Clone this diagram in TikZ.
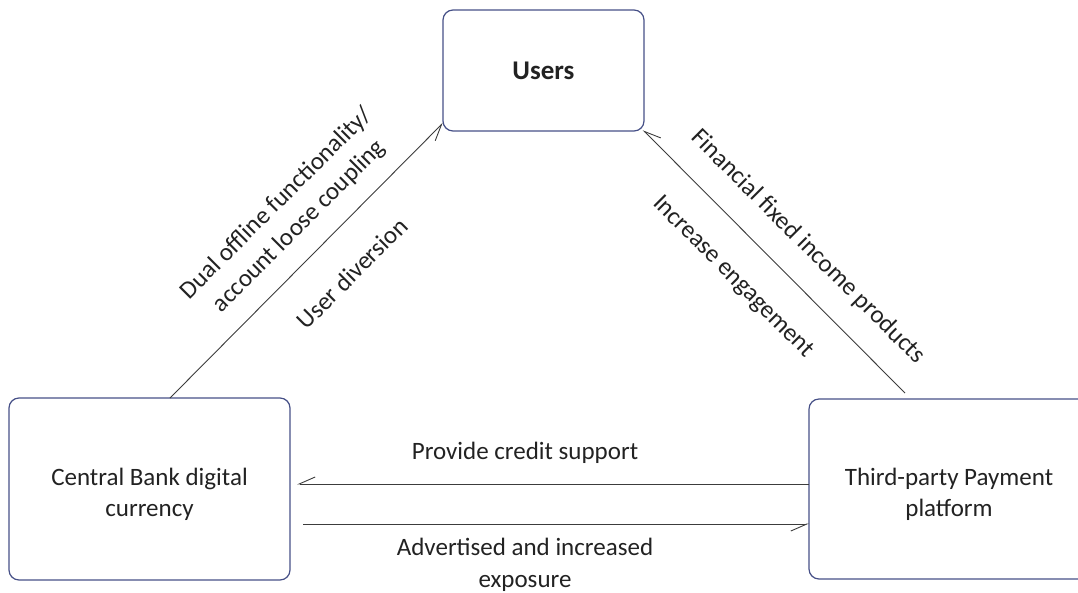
\documentclass[tikz,border=0pt]{standalone}
\usepackage{fontspec}
\setmainfont{Carlito}
\usetikzlibrary{arrows.meta}
\definecolor{boxblue}{RGB}{70,80,135}
\definecolor{linegray}{RGB}{60,60,60}
\definecolor{textgray}{RGB}{34,34,34}
% two centred lines, set a little below the middle of their box
\newcommand{\boxtext}[2]{\raisebox{-6pt}[\height][\depth]{\begin{tabular}{@{}c@{}}#1\\#2\end{tabular}}}
\begin{document}
\begin{tikzpicture}[x=1pt,y=-1pt,
  box/.style={draw=boxblue, line width=1.2pt, rounded corners=10pt, outer sep=0pt,
    align=center, text=textgray, font=\fontsize{25}{31}\selectfont},
  arr/.style={draw=linegray, line width=0.9pt,
    -{Straight Barb[right,length=16pt,width=14pt]}},
  lbl/.style={font=\fontsize{25}{32}\selectfont, text=textgray, align=center, inner sep=0pt},
]
\useasboundingbox (0,0) rectangle (1078,592);
\clip (0,0) rectangle (1078,592);

% the three actors
\node[box, minimum width=201pt, minimum height=121pt] (users) at (543.5,70.5)
  {\fontsize{27}{32}\selectfont\textbf{Users}};
\node[box, minimum width=281pt, minimum height=182pt] (cbdc) at (149.5,489)
  {\boxtext{Central Bank digital}{currency}};
\node[box, minimum width=280pt, minimum height=180pt] (tpp) at (949,489)
  {\boxtext{Third-party Payment}{platform}};

% relations
\draw[arr] ([xshift=161pt]cbdc.north west) -- ([yshift=8pt]users.south west);
\draw[arr] ([xshift=96pt,yshift=6pt]tpp.north west) -- ([xshift=-1pt,yshift=1pt]users.south east);
\draw[arr] ([yshift=5pt]tpp.west) -- ([xshift=7pt,yshift=5pt]cbdc.east);
\draw[arr] ([xshift=13pt,yshift=-35pt]cbdc.east) -- ([yshift=-35pt]tpp.west);

% labels
\node[lbl, rotate=45] (dual) at (288,215) {Dual offline functionality/\\account loose coupling};
\node[lbl, rotate=45] (divert) at (352,273) {User diversion};
\node[lbl, rotate=-45] (fin) at (808,247) {Financial fixed income products};
\node[lbl, rotate=-45] (engage) at (733,277) {Increase engagement};
\node[lbl] (credit) at (525,453) {Provide credit support};
\node[lbl] (advert) at (525,565) {Advertised and increased\\exposure};
\end{tikzpicture}
\end{document}
